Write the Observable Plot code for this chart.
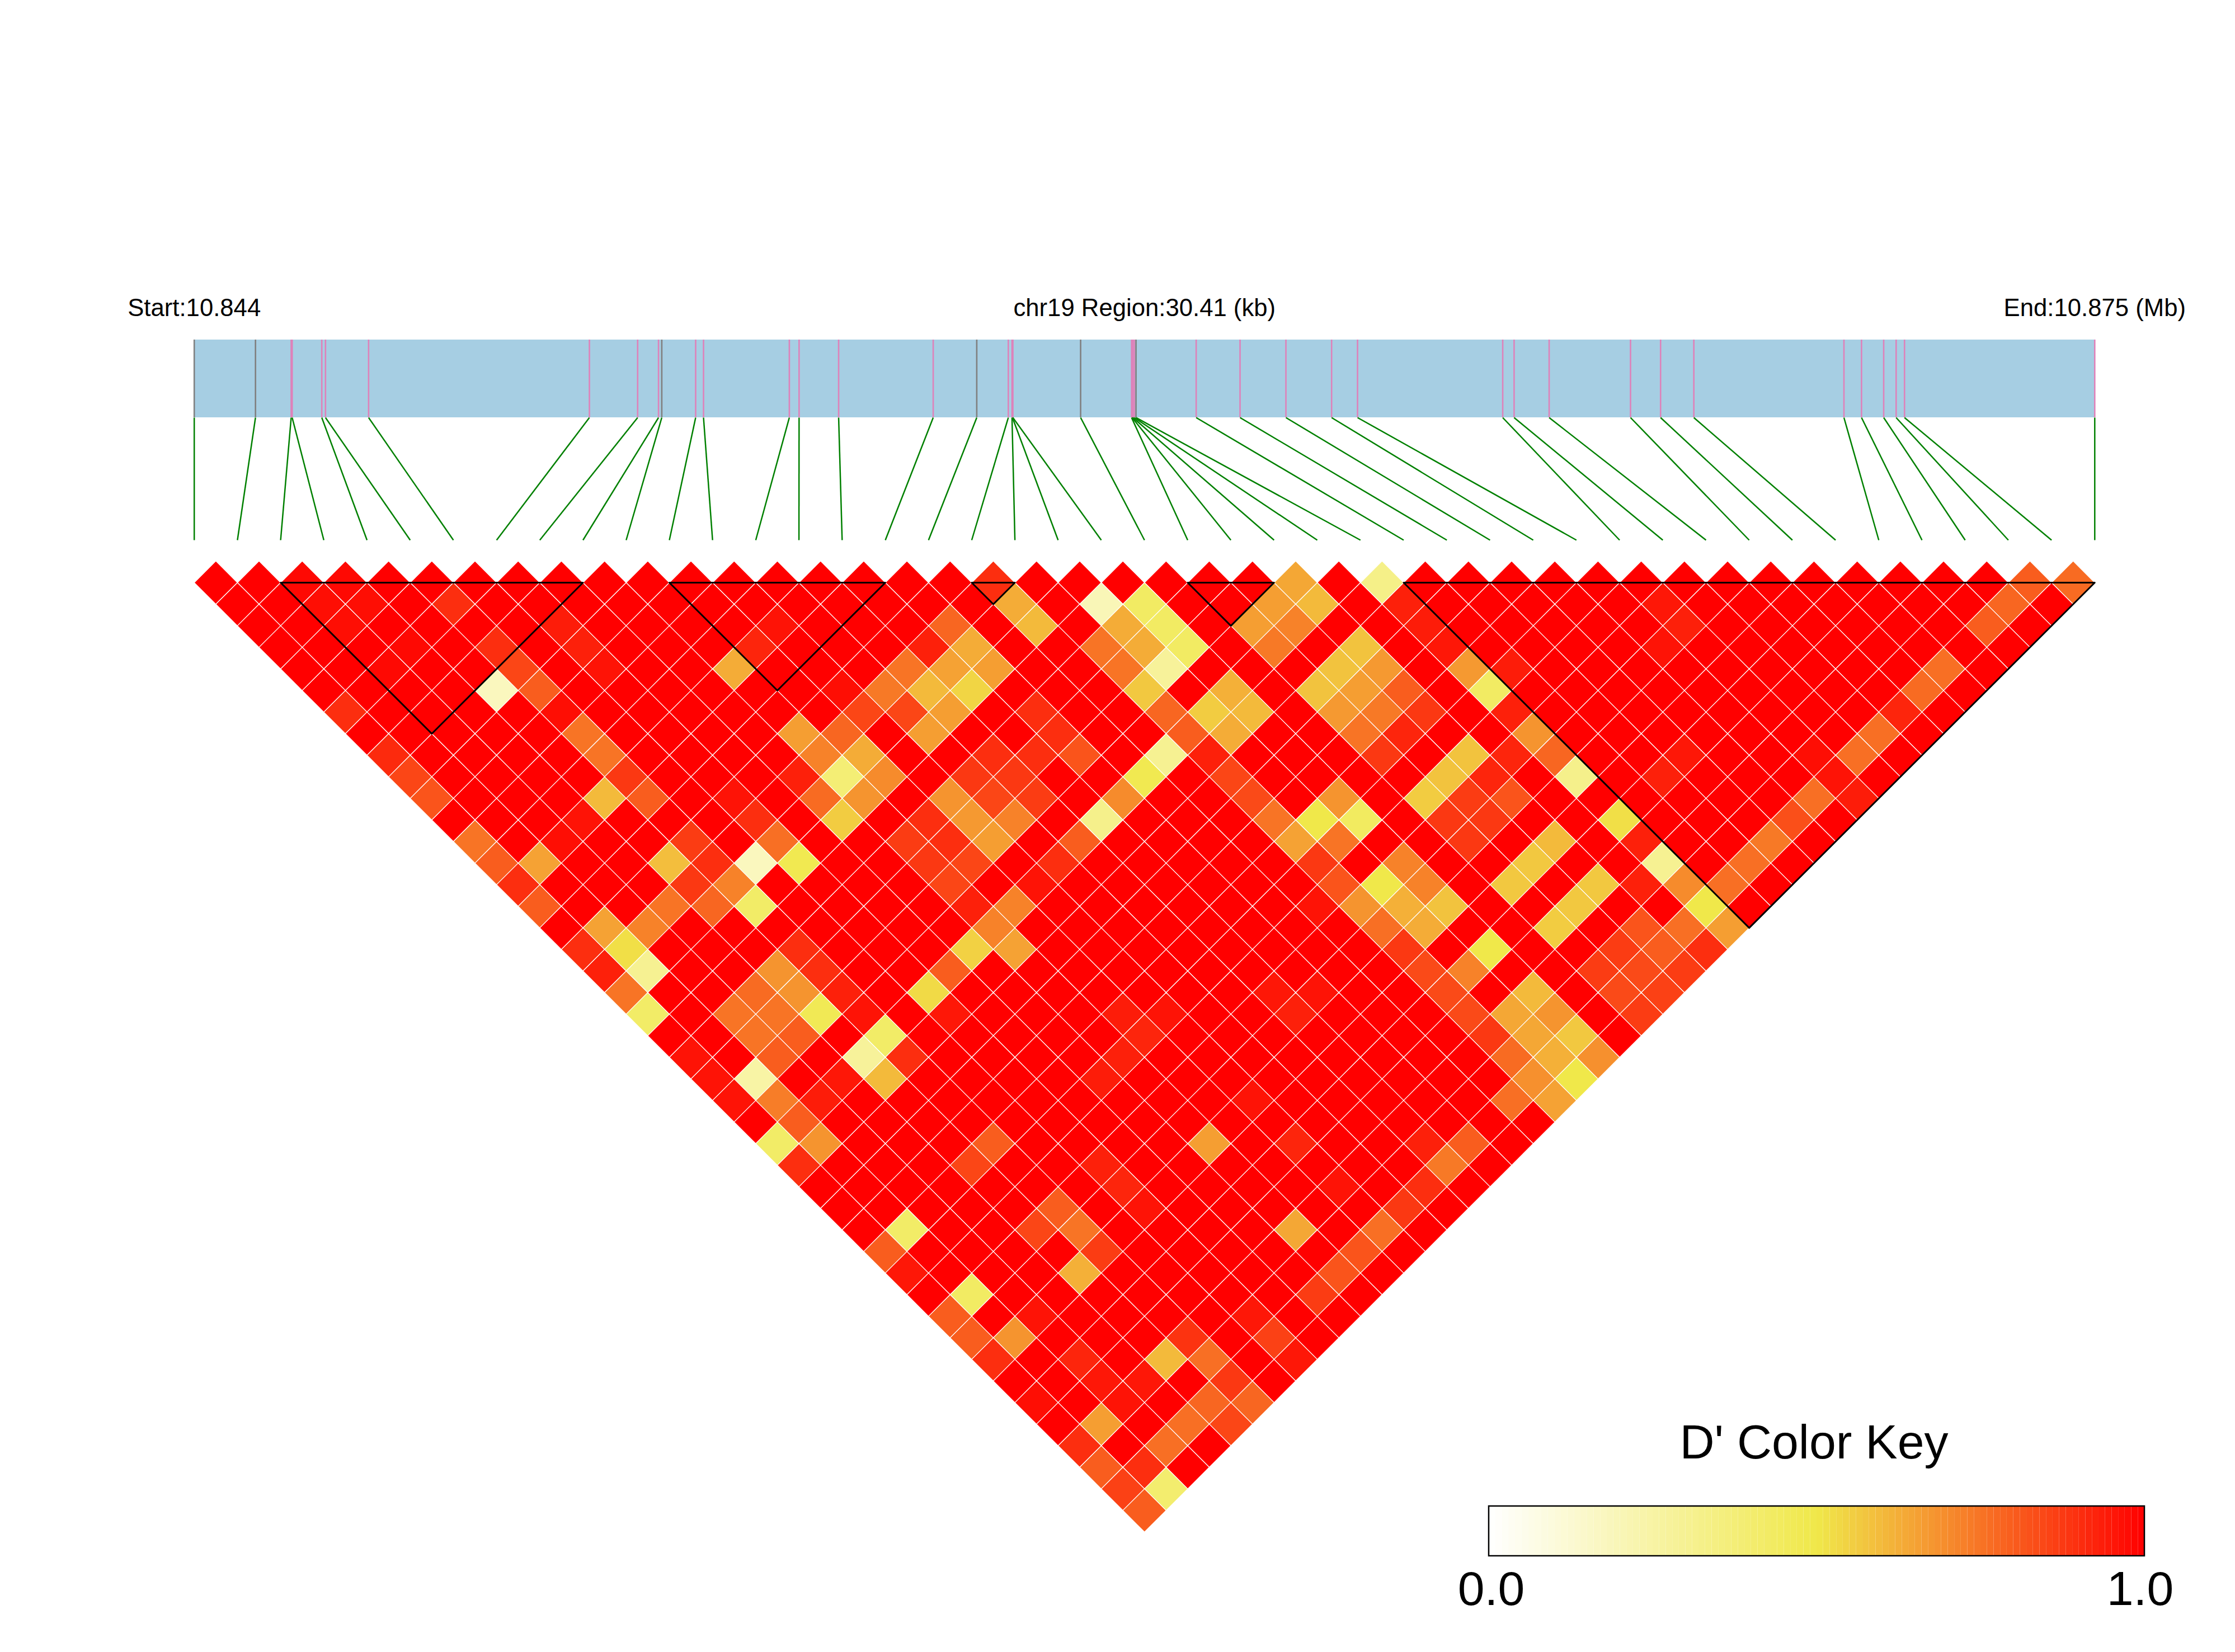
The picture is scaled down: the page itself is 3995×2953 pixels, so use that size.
<!DOCTYPE html>
<html>
<head>
<meta charset="utf-8">
<style>html,body{margin:0;padding:0;background:#fff}</style>
<script src="https://cdn.jsdelivr.net/npm/d3@7"></script>
<script src="https://cdn.jsdelivr.net/npm/@observablehq/plot@0.6"></script>
</head>
<body>
<div id="chart"></div>
<script>
// SNP positions, kb from the region start (10.844 Mb)
const snpKb = [0,0.98,1.551,1.567,2.041,2.1,2.79,6.323,7.095,7.429,7.481,8.023,8.149,9.522,9.678,10.311,11.824,12.521,13.026,13.085,13.092,13.099,14.183,14.998,15.007,15.02,15.042,15.069,16.032,16.734,17.468,18.199,18.614,20.937,21.119,21.68,22.982,23.463,23.995,26.397,26.678,27.033,27.232,27.366,30.41];
const greySnps = [0,1,10,17,22,27];
const regionKb = 30.41;
const titles = ["Start:10.844","chr19 Region:30.41 (kb)","End:10.875 (Mb)"];
const keyTitle = "D' Color Key";
const keyLabels = ["0.0","1.0"];
// LD blocks: first and last SNP index
const blocks = [[2,9],[11,16],[18,19],[23,25],[28,44]];

// D', by SNP separation (lag). Each pair is [first SNP index, D'];
// pairs not listed read as full red, D' = 1.
const fullLD = 1;
const lag01 = [[2,.98],[3,.98],[18,.9],[25,.64],[27,.33],[42,.8],[43,.77]];
const lag02 = [[2,.97],[3,.97],[5,.9],[18,.63],[20,.2],[21,.43],[24,.66],[25,.6],[27,.93],[33,.95],[41,.78]];
const lag03 = [[2,.97],[7,.94],[12,.96],[16,.78],[18,.6],[20,.63],[21,.43],[23,.66],[24,.72],[27,.94],[33,.93],[40,.8]];
const lag04 = [[3,.98],[5,.9],[7,.93],[11,.92],[15,.93],[16,.63],[19,.75],[20,.63],[21,.43],[23,.74],[25,.58],[27,.95],[32,.96]];
const lag05 = [[2,.98],[5,.85],[7,.96],[10,.63],[14,.75],[15,.65],[16,.66],[19,.75],[20,.28],[24,.58],[25,.67],[27,.67],[28,.94],[38,.76]];
const lag06 = [[4,.18],[5,.8],[12,.97],[13,.74],[14,.6],[15,.54],[19,.57],[21,.62],[23,.58],[24,.66],[25,.8],[27,.43],[37,.77]];
const lag07 = [[0,.9],[5,.97],[12,.85],[13,.85],[14,.66],[16,.9],[19,.78],[20,.56],[21,.6],[23,.67],[24,.74],[25,.88],[27,.93],[36,.92]];
const lag08 = [[5,.75],[10,.66],[11,.78],[13,.66],[16,.9],[19,.8],[20,.63],[23,.75],[24,.92],[27,.68],[35,.76]];
const lag09 = [[0,.91],[5,.75],[10,.72],[11,.63],[14,.9],[15,.9],[16,.82],[18,.3],[19,.93],[23,.88],[25,.58],[26,.92],[27,.78],[30,.95],[33,.97],[34,.76]];
const lag10 = [[0,.85],[5,.88],[9,.93],[10,.38],[11,.7],[13,.88],[14,.88],[17,.48],[19,.85],[24,.58],[25,.92],[27,.32],[29,.93],[33,.96]];
const lag11 = [[0,.82],[4,.6],[5,.8],[7,.96],[9,.77],[10,.68],[12,.68],[13,.85],[14,.87],[16,.7],[19,.84],[21,.68],[23,.56],[24,.87],[25,.82],[32,.76],[33,.94]];
const lag12 = [[3,.96],[7,.9],[9,.56],[11,.9],[12,.67],[13,.72],[15,.32],[19,.75],[20,.5],[21,.44],[23,.88],[24,.88],[27,.52],[31,.83]];
const lag13 = [[0,.75],[2,.97],[5,.87],[7,.76],[10,.87],[11,.9],[12,.66],[14,.8],[19,.65],[20,.75],[23,.88],[25,.6],[27,.93],[30,.74]];
const lag14 = [[0,.8],[1,.65],[4,.59],[5,.9],[6,.18],[7,.48],[10,.88],[11,.85],[13,.9],[19,.88],[21,.72],[24,.57],[27,.3],[29,.76]];
const lag15 = [[0,.9],[4,.88],[5,.72],[10,.85],[12,.96],[19,.82],[20,.5],[21,.72],[23,.57],[25,.57],[26,.93],[27,.7],[28,.76]];
const lag16 = [[0,.8],[3,.75],[4,.78],[5,.42],[10,.93],[11,.72],[18,.96],[19,.68],[20,.62],[21,.58],[24,.57],[27,.5]];
const lag17 = [[1,.65],[2,.72],[10,.72],[19,.76],[20,.63],[23,.56],[25,.82],[26,.76],[27,.66]];
const lag18 = [[0,.9],[1,.52],[5,.9],[9,.55],[10,.65],[19,.88],[21,.5],[24,.87],[25,.8],[26,.9]];
const lag19 = [[0,.93],[1,.3],[4,.68],[5,.9],[8,.8],[19,.84],[20,.72],[23,.87],[24,.84],[25,.87]];
const lag20 = [[0,.75],[3,.77],[4,.68],[5,.93],[7,.53],[15,.95],[16,.96],[19,.84],[21,.6],[23,.84],[24,.86]];
const lag21 = [[0,.42],[2,.75],[3,.75],[4,.47],[5,.96],[7,.95],[11,.94],[12,.96],[15,.93],[19,.84],[20,.64],[21,.68],[23,.87]];
const lag22 = [[2,.75],[3,.8],[5,.42],[11,.92],[19,.88],[20,.64],[21,.57]];
const lag23 = [[0,.96],[2,.8],[4,.28],[5,.9],[10,.93],[19,.77],[20,.62],[21,.69]];
const lag24 = [[0,.96],[1,.25],[3,.95],[4,.6],[9,.94],[19,.69],[20,.5]];
const lag25 = [[0,.96],[1,.73],[2,.94],[12,.96],[18,.76],[19,.65]];
const lag26 = [[1,.8]];
const lag27 = [[0,.42],[1,.68],[5,.8],[10,.66],[12,.92],[15,.93],[16,.8]];
const lag28 = [[0,.9],[4,.85],[7,.93],[15,.74]];
const lag29 = [[7,.92],[12,.96],[14,.9]];
const lag30 = [[5,.8],[7,.96],[13,.88]];
const lag31 = [[1,.42],[4,.85],[5,.75],[10,.64],[12,.76]];
const lag32 = [[0,.8],[5,.87],[11,.82]];
const lag33 = [[0,.95],[4,.62],[10,.82]];
const lag34 = [[1,.43],[9,.87]];
const lag35 = [[0,.8],[2,.96],[7,.95]];
const lag36 = [[0,.8],[1,.68],[5,.89],[7,.86]];
const lag37 = [[0,.9],[2,.92],[4,.6],[5,.76],[7,.95]];
const lag38 = [[2,.95],[3,.95],[5,.88]];
const lag39 = [[0,.97],[2,.96],[4,.78],[5,.78]];
const lag40 = [[1,.66],[3,.76],[4,.85]];
const lag41 = [[0,.9],[2,.76]];
const lag42 = [[0,.8],[1,.9]];
const lag43 = [[0,.86],[1,.4]];
const lag44 = [[0,.8]];
const lags = [lag01,lag02,lag03,lag04,lag05,lag06,lag07,lag08,lag09,lag10,lag11,lag12,lag13,lag14,lag15,lag16,lag17,lag18,lag19,lag20,lag21,lag22,lag23,lag24,lag25,lag26,lag27,lag28,lag29,lag30,lag31,lag32,lag33,lag34,lag35,lag36,lag37,lag38,lag39,lag40,lag41,lag42,lag43,lag44];

const nSnp = snpKb.length;
const X0 = 346.7, X1 = 3743.8, Y0 = 1002.4, Y1 = 2738;
const xu = px => (px - X0) / (X1 - X0) * (nSnp - 1);
const yu = px => (px - Y0) / (Y1 - Y0) * nSnp;

// diamonds, one closed path per SNP pair
const cells = [];
lags.forEach((rows, k) => {
  const lag = k + 1, known = new Map(rows);
  for (let i = 0; i + lag < nSnp; i++) {
    const v = known.has(i) ? known.get(i) : fullLD, c = i + lag / 2, id = i + "-" + (i + lag);
    cells.push({id, v, x: c, y: lag - 1}, {id, v, x: c + .5, y: lag}, {id, v, x: c, y: lag + 1}, {id, v, x: c - .5, y: lag});
  }
});

const blockPts = blocks.flatMap(([a, b], n) => [
  {n, x: a, y: 1}, {n, x: b, y: 1}, {n, x: (a + b) / 2, y: b - a + 1}
]);

const kbX = kb => kb / regionKb * (nSnp - 1);
const snps = snpKb.map((kb, k) => ({k, x: kbX(kb), grey: greySnps.includes(k)}));
const barTop = yu(607), barBot = yu(746), linkBot = yu(965);

const keyX0 = xu(2661), keyX1 = xu(3833), keyY0 = yu(2692), keyY1 = yu(2781);
const keyBins = d3.range(100).map(b => ({b, v: (b + .5) / 100}));
const keyAt = t => keyX0 + t * (keyX1 - keyX0);
const font = "Liberation Sans";

const chart = Plot.plot({
  width: 3995, height: 2953,
  marginTop: 0, marginRight: 0, marginBottom: 0, marginLeft: 0,
  style: {background: "#fff", display: "block", maxWidth: "none"},
  x: {domain: [0, nSnp - 1], range: [X0, X1], axis: null},
  y: {domain: [0, nSnp], range: [Y0, Y1], axis: null},
  color: {type: "linear", domain: [0, .5, 1], range: ["#ffffff", "#f0e84a", "#ff0000"], interpolate: "rgb"},
  marks: [
    Plot.rect([0], {x1: 0, x2: nSnp - 1, y1: barTop, y2: barBot, fill: "#a6cee3"}),
    Plot.ruleX(snps.filter(d => !d.grey), {x: "x", y1: barTop, y2: barBot, stroke: "#de82ba", strokeWidth: 2.6}),
    Plot.ruleX(snps.filter(d => d.grey), {x: "x", y1: barTop, y2: barBot, stroke: "#808080", strokeWidth: 2.6}),
    Plot.link(snps, {x1: "x", y1: barBot, x2: "k", y2: linkBot, stroke: "#008000", strokeWidth: 2.5}),
    Plot.text(titles, {x: (d, i) => i * (nSnp - 1) / 2, y: yu(564), text: d => d, fontFamily: font, fontSize: 43.7, fill: "#000", lineAnchor: "bottom", textAnchor: "middle"}),
    Plot.line(cells, {x: "x", y: "y", z: "id", fill: "v", stroke: "#fff", strokeWidth: 1.2, curve: "linear-closed"}),
    Plot.line(blockPts, {x: "x", y: "y", z: "n", fill: "none", stroke: "#000", strokeWidth: 3, curve: "linear-closed"}),
    Plot.rect(keyBins, {x1: d => keyAt(d.b / 100), x2: d => keyAt((d.b + 1) / 100), y1: keyY0, y2: keyY1, fill: "v"}),
    Plot.rect([0], {x1: keyX0, x2: keyX1, y1: keyY0, y2: keyY1, fill: "none", stroke: "#000", strokeWidth: 2.5}),
    Plot.text([keyTitle], {x: xu(3242), y: yu(2606), text: d => d, fontFamily: font, fontSize: 86, fill: "#000", lineAnchor: "bottom", textAnchor: "middle"}),
    Plot.text(keyLabels, {x: (d, i) => xu(i ? 3825 : 2665), y: yu(2868), text: d => d, fontFamily: font, fontSize: 86, fill: "#000", lineAnchor: "bottom", textAnchor: "middle"})
  ]
});
document.getElementById("chart").appendChild(chart);
</script>
</body>
</html>
